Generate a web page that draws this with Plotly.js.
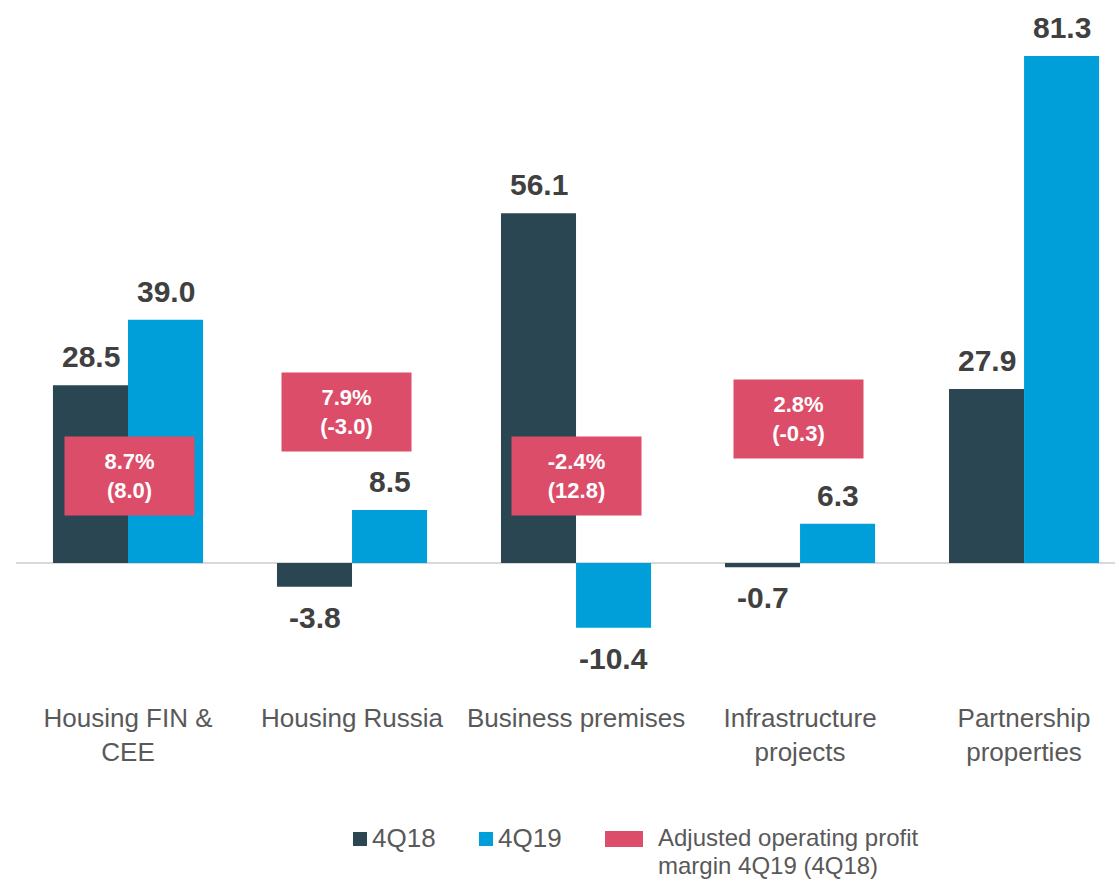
<!DOCTYPE html>
<html>
<head>
<meta charset="utf-8">
<script src="https://cdn.plot.ly/plotly-3.0.1.min.js"></script>
<style>
  html, body { margin: 0; padding: 0; background: #ffffff; }
  #chart { width: 1115px; height: 880px; }
</style>
</head>
<body>
<div id="chart"></div>
<script>
// ---- data ----
const categories = ['Housing FIN &<br>CEE', 'Housing Russia', 'Business premises', 'Infrastructure<br>projects', 'Partnership<br>properties'];
const seriesNames = ['4Q18', '4Q19'];
const values4Q18 = [28.5, -3.8, 56.1, -0.7, 27.9];
const values4Q19 = [39.0, 8.5, -10.4, 6.3, 81.3];
const margin4Q19 = ['8.7%', '7.9%', '-2.4%', '2.8%'];
const margin4Q18 = ['(8.0)', '(-3.0)', '(12.8)', '(-0.3)'];
const marginLegendLines = ['Adjusted operating profit', 'margin 4Q19 (4Q18)'];

// ---- placement / style ----
const boxY = [14.0, 24.2, 14.0, 23.1];
const boxXShift = [1, -6, 0, -2];
const FONT = 'Liberation Sans, Arial, Helvetica, sans-serif';
const DARK = '#2a4653';
const BLUE = '#019fda';
const RED = '#dc4d69';
const LABEL = '#404040';
const GREY = '#595959';

const W = 1115, H = 880;
const ML = 16, MR = 0, MT = 0, MB = 180;
const plotW = W - ML - MR, plotH = H - MT - MB;
const px2x = p => (p - ML) / plotW;
const py2y = p => (plotH + MT - p) / plotH;

const traces = [
  { type: 'bar', name: seriesNames[0], x: categories, y: values4Q18, marker: { color: DARK, line: { width: 0 } }, hoverinfo: 'skip' },
  { type: 'bar', name: seriesNames[1], x: categories, y: values4Q19, marker: { color: BLUE, line: { width: 0 } }, hoverinfo: 'skip' }
];

const annotations = [];
[values4Q18, values4Q19].forEach((vals, s) => {
  vals.forEach((v, i) => {
    annotations.push({
      x: categories[i], y: v, xref: 'x', yref: 'y',
      xshift: s === 0 ? -37.5 : 37.5,
      yshift: v >= 0 ? 10 : -12,
      yanchor: v >= 0 ? 'bottom' : 'top', xanchor: 'center',
      text: v.toFixed(1), showarrow: false,
      font: { family: FONT, size: 30, color: LABEL, weight: 'bold' }
    });
  });
});

margin4Q19.forEach((m, i) => {
  annotations.push({
    x: categories[i], y: boxY[i], xref: 'x', yref: 'y',
    xshift: boxXShift[i],
    text: '<b>' + m + '<br>' + margin4Q18[i] + '</b>',
    showarrow: false, bgcolor: RED, width: 127, height: 76, borderpad: 1,
    align: 'center', valign: 'middle', xanchor: 'center', yanchor: 'middle',
    font: { family: FONT, size: 22, color: '#ffffff' }
  });
});

// legend (manual, to match layout)
const shapes = [
  { type: 'rect', xref: 'paper', yref: 'paper', x0: px2x(353), x1: px2x(367), y0: py2y(846), y1: py2y(832), fillcolor: DARK, line: { width: 0 } },
  { type: 'rect', xref: 'paper', yref: 'paper', x0: px2x(479), x1: px2x(493), y0: py2y(846), y1: py2y(832), fillcolor: BLUE, line: { width: 0 } },
  { type: 'rect', xref: 'paper', yref: 'paper', x0: px2x(605), x1: px2x(643), y0: py2y(847), y1: py2y(831), fillcolor: RED, line: { width: 0 } }
];
annotations.push({ x: px2x(370), y: py2y(838), xref: 'paper', yref: 'paper', xanchor: 'left', yanchor: 'middle', text: seriesNames[0], showarrow: false, font: { family: FONT, size: 26, color: GREY } });
annotations.push({ x: px2x(496), y: py2y(838), xref: 'paper', yref: 'paper', xanchor: 'left', yanchor: 'middle', text: seriesNames[1], showarrow: false, font: { family: FONT, size: 26, color: GREY } });
marginLegendLines.forEach((t, k) => {
  annotations.push({ x: px2x(656), y: py2y(837 + 28 * k), xref: 'paper', yref: 'paper', xanchor: 'left', yanchor: 'middle', text: t, showarrow: false, font: { family: FONT, size: 24, color: GREY } });
});

const layout = {
  width: W, height: H,
  margin: { l: ML, r: MR, t: MT, b: MB },
  paper_bgcolor: '#ffffff', plot_bgcolor: '#ffffff',
  barmode: 'group', bargap: 0.33, bargroupgap: 0,
  showlegend: false,
  font: { family: FONT },
  xaxis: {
    type: 'category', range: [-0.5, 4.406],
    showgrid: false, showline: false, zeroline: false, ticks: '',
    tickfont: { family: FONT, size: 26, color: GREY }, fixedrange: true
  },
  yaxis: {
    range: [-21.97, 90.28], showgrid: false, showline: false, showticklabels: false, ticks: '',
    zeroline: true, zerolinecolor: '#d9d9d9', zerolinewidth: 2, fixedrange: true
  },
  shapes: shapes,
  annotations: annotations
};

Plotly.newPlot('chart', traces, layout, { displayModeBar: false, staticPlot: true });
</script>
</body>
</html>
